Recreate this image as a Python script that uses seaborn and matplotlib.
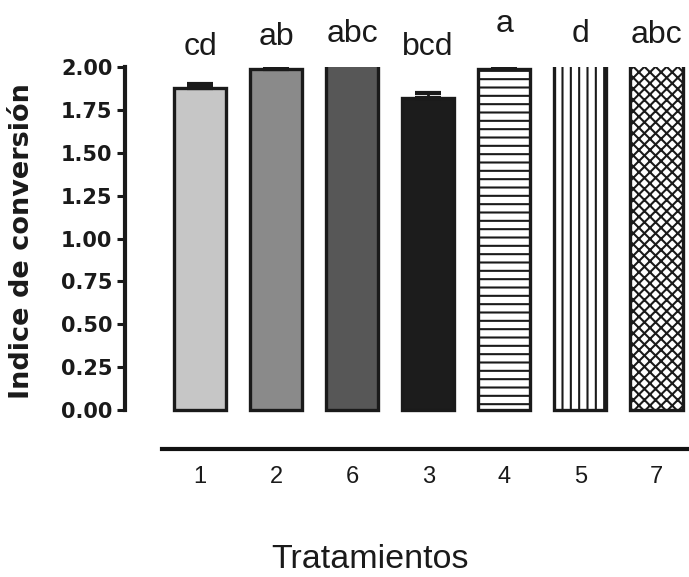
import numpy as np
import pandas as pd
import matplotlib
matplotlib.use("Agg")
import matplotlib.pyplot as plt
import seaborn as sns

# Treatments in plotted order, mean conversion index and SE
treatments = ["1", "2", "6", "3", "4", "5", "7"]
means = [1.88, 1.99, 2.05, 1.82, 1.99, 2.08, 2.04]
errors = [0.02, 0.005, 0.01, 0.03, 0.005, 0.01, 0.01]
letters = ["cd", "ab", "abc", "bcd", "a", "d", "abc"]
letter_heights = [2.07, 2.128, 2.146, 2.07, 2.204, 2.146, 2.14]
yticks = [0.00, 0.25, 0.50, 0.75, 1.00, 1.25, 1.50, 1.75, 2.00]

fills = ["#c6c6c6", "#8a8a8a", "#575757", "#1c1c1c", "#ffffff", "#ffffff", "#ffffff"]
hatches = ["", "", "", "", "--", "||", "xxx"]

sns.set_style("white")
plt.rcParams["font.family"] = ["Liberation Sans", "DejaVu Sans"]
plt.rcParams["hatch.linewidth"] = 1.5
plt.rcParams["hatch.color"] = "#1a1a1a"

df = pd.DataFrame({"Tratamiento": treatments, "Indice": means})

fig = plt.figure(figsize=(6.89, 5.77), dpi=100)
ax = fig.add_axes([125 / 689, 128 / 577, 564 / 689, 382 / 577])

sns.barplot(data=df, x="Tratamiento", y="Indice", hue="Tratamiento",
            order=treatments, hue_order=treatments,
            palette=dict(zip(treatments, fills)), width=0.69,
            edgecolor="#1a1a1a", linewidth=2.4, errorbar=None,
            legend=False, ax=ax)

for patch, h in zip(ax.patches, hatches):
    patch.set_hatch(h)
    patch.set_edgecolor("#1a1a1a")

ax.errorbar(np.arange(len(treatments)), means,
            yerr=[np.zeros(len(errors)), errors], fmt="none",
            ecolor="#1a1a1a", elinewidth=2, capsize=9.5, capthick=3, zorder=3)

for i, (lab, h) in enumerate(zip(letters, letter_heights)):
    ax.text(i, h, lab, ha="center", va="baseline", fontsize=23,
            color="#1a1a1a", clip_on=False)

ax.set_xlim(-0.987, 6.43)
ax.set_ylim(-0.227, 2.0)

ax.spines["top"].set_visible(False)
ax.spines["right"].set_visible(False)
ax.spines["left"].set_bounds(0, 2)
ax.spines["left"].set_linewidth(3)
ax.spines["left"].set_color("#1a1a1a")
ax.spines["bottom"].set_bounds(-0.5, 6.43)
ax.spines["bottom"].set_linewidth(3)
ax.spines["bottom"].set_color("#111111")

ax.set_yticks(yticks)
ax.set_yticklabels([f"{v:.2f}" for v in yticks], fontfamily="DejaVu Sans",
                   fontweight="bold", fontsize=15, color="#1a1a1a")
ax.tick_params(axis="y", direction="out", length=6, width=2.2,
               color="#1a1a1a", pad=3, left=True)
ax.tick_params(axis="x", length=0, pad=12, labelsize=17, labelcolor="#1a1a1a")

ax.set_xlabel("")
ax.set_ylabel("")
ax.grid(False)

fig.text(22 / 689, 1 - 241.5 / 577, "Indice de conversión", rotation=90,
         ha="center", va="center", fontfamily="DejaVu Sans",
         fontweight="bold", fontsize=19.5, color="#1a1a1a")
fig.text(370.5 / 689, 9 / 577, "Tratamientos", ha="center", va="baseline",
         fontsize=24.5, color="#1a1a1a")

fig.savefig("out.png", dpi=100, facecolor="white")
